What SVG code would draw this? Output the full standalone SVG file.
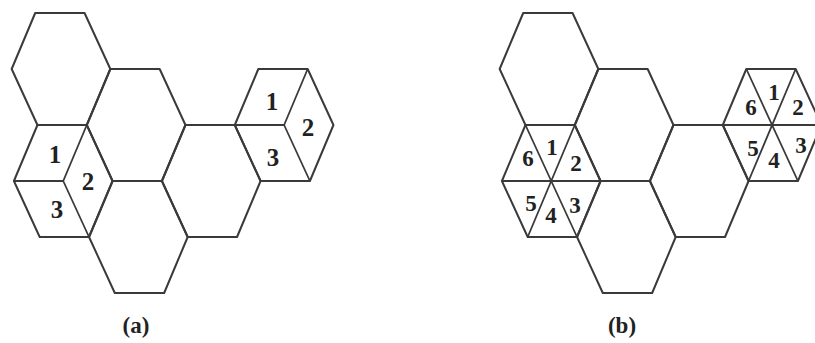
<svg xmlns="http://www.w3.org/2000/svg" xmlns:xlink="http://www.w3.org/1999/xlink" width="815" height="343" viewBox="0 0 815 343">
<style>
.h{fill:none;stroke:#3a3a3a;stroke-width:2;stroke-linejoin:round}
.s{fill:none;stroke:#3a3a3a;stroke-width:1.8}
.n{font-family:"Liberation Serif","Times New Roman",serif;font-weight:bold;font-size:25px;fill:#222;text-anchor:middle}
.m{font-family:"Liberation Serif","Times New Roman",serif;font-weight:bold;font-size:23px;fill:#222;text-anchor:middle}
.c{font-family:"Liberation Serif","Times New Roman",serif;font-weight:bold;font-size:23px;fill:#222;text-anchor:middle}
</style>
<defs>
<polygon id="hex" points="-49.33,0 -24.67,-56 24.67,-56 49.33,0 24.67,56 -24.67,56"/>
<path id="tri3" d="M0,0 L-49.33,0 M0,0 L24.67,-56 M0,0 L24.67,56"/>
<path id="tri6" d="M-49.33,0 L49.33,0 M-24.67,-56 L24.67,56 M24.67,-56 L-24.67,56"/>
</defs>
<rect width="815" height="343" fill="#fff"/>

<g id="panel-a">
<g transform="matrix(1 0 0.02 1 -1.38 0)">
<g id="a-hexA"><use xlink:href="#hex" class="h" x="61" y="69"/></g>
<g id="a-hexB"><use xlink:href="#hex" class="h" x="135" y="125"/></g>
<g id="a-hexC"><use xlink:href="#hex" class="h" x="135" y="237"/></g>
<g id="a-hexD"><use xlink:href="#hex" class="h" x="209" y="181"/></g>
<g id="a-hexL">
<use xlink:href="#hex" class="h" x="61" y="181"/>
<use xlink:href="#tri3" class="s" x="61" y="181"/>
</g>
<g id="a-hexR">
<use xlink:href="#hex" class="h" x="283" y="125"/>
<use xlink:href="#tri3" class="s" x="283" y="125"/>
</g>
</g>
<g id="a-labels">
<text class="n" x="55" y="163">1</text>
<text class="n" x="88" y="190">2</text>
<text class="n" x="57" y="218">3</text>
<text class="n" x="272" y="110">1</text>
<text class="n" x="308" y="136">2</text>
<text class="n" x="273" y="166">3</text>
</g>
<text class="c" x="136" y="333">(a)</text>
</g>

<g id="panel-b">
<g transform="matrix(1 0 0.02 1 -1.38 0)">
<g id="b-hexA"><use xlink:href="#hex" class="h" x="549" y="69"/></g>
<g id="b-hexB"><use xlink:href="#hex" class="h" x="623" y="125"/></g>
<g id="b-hexC"><use xlink:href="#hex" class="h" x="623" y="237"/></g>
<g id="b-hexD"><use xlink:href="#hex" class="h" x="697" y="181"/></g>
<g id="b-hexL">
<use xlink:href="#hex" class="h" x="549" y="181"/>
<use xlink:href="#tri6" class="s" x="549" y="181"/>
</g>
<g id="b-hexR">
<use xlink:href="#hex" class="h" x="771" y="125"/>
<use xlink:href="#tri6" class="s" x="771" y="125"/>
</g>
</g>
<g id="b-labels">
<text class="m" x="528" y="166">6</text>
<text class="m" x="552" y="155">1</text>
<text class="m" x="576" y="171">2</text>
<text class="m" x="575" y="213">3</text>
<text class="m" x="551" y="223">4</text>
<text class="m" x="531" y="211">5</text>
<text class="m" x="751" y="115">6</text>
<text class="m" x="774" y="100">1</text>
<text class="m" x="798" y="115">2</text>
<text class="m" x="801" y="153">3</text>
<text class="m" x="774" y="168">4</text>
<text class="m" x="753" y="156">5</text>
</g>
<text class="c" x="622" y="333">(b)</text>
</g>
</svg>
